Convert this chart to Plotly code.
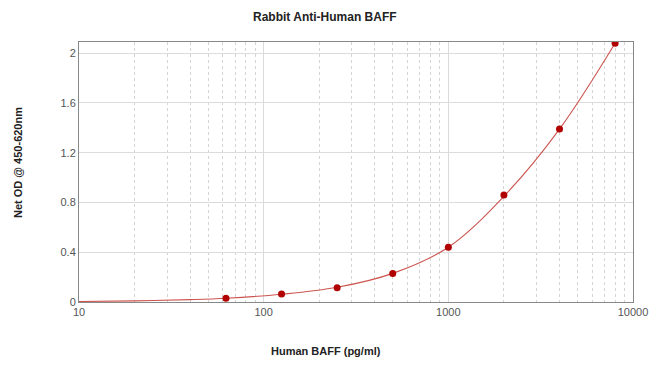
import plotly.graph_objects as go

# Standard points
conc = [62.5, 125, 250, 500, 1000, 2000, 4000, 8000]
od = [0.03, 0.065, 0.115, 0.23, 0.44, 0.86, 1.39, 2.08]

# Fitted curve
curve_x = [10, 20, 40, 62.5, 125, 250, 500, 1000, 2000, 4000, 8000]
curve_y = [0.004, 0.009, 0.019, 0.03, 0.062, 0.118, 0.23, 0.44, 0.85, 1.39, 2.08]

x_ticks = [10, 100, 1000, 10000]
x_tick_labels = ["10", "100", "1000", "10000"]
y_ticks = [0, 0.4, 0.8, 1.2, 1.6, 2]
y_tick_labels = ["0", "0.4", "0.8", "1.2", "1.6", "2"]

FONT = "Arial, Liberation Sans, sans-serif"
L, R, T, B = 79, 17, 42, 70
PW, PH = 650 - L - R, 372 - T - B

fig = go.Figure()
fig.add_trace(go.Scatter(x=curve_x, y=curve_y, mode="lines",
                         line=dict(color="#cc5550", width=1.1, shape="spline"),
                         hoverinfo="skip", showlegend=False))
fig.add_trace(go.Scatter(x=conc, y=od, mode="markers",
                         marker=dict(color="#b00000", size=7),
                         showlegend=False))

fig.update_layout(
    width=650, height=372,
    margin=dict(l=L, r=R, t=T, b=B),
    paper_bgcolor="white", plot_bgcolor="white",
    font=dict(family=FONT, size=11, color="#555"),
    annotations=[
        dict(text="<b>Rabbit Anti-Human BAFF</b>", xref="paper", yref="paper",
             x=(325 - L) / PW, y=1 + (T - 17) / PH, xanchor="center", yanchor="middle",
             showarrow=False, font=dict(size=12, color="#222")),
        dict(text="<b>Human BAFF (pg/ml)</b>", xref="paper", yref="paper",
             x=(326 - L) / PW, y=-(351 - 302) / PH, xanchor="center", yanchor="middle",
             showarrow=False, font=dict(size=11, color="#222")),
        dict(text="<b>Net OD @ 450-620nm</b>", xref="paper", yref="paper",
             x=-(L - 18) / PW, y=(302 - 163) / PH, xanchor="center", yanchor="middle",
             textangle=-90, showarrow=False, font=dict(size=11, color="#222")),
    ],
)

fig.update_xaxes(type="log", range=[1, 4.0], tickvals=x_ticks, ticktext=x_tick_labels,
                 automargin=False,
                 showgrid=True, gridcolor="#dadada", gridwidth=1,
                 minor=dict(showgrid=True, gridcolor="#d4d4d4", griddash="3px,3px", dtick="D1"),
                 showline=True, linecolor="#888", mirror=True, ticks="", zeroline=False,
                 tickfont=dict(size=11, color="#555"))
fig.update_yaxes(range=[0, 2.09], tickvals=y_ticks, ticktext=y_tick_labels,
                 automargin=False,
                 showgrid=True, gridcolor="#dcdcdc", gridwidth=1,
                 showline=True, linecolor="#888", mirror=True, ticks="", zeroline=False,
                 tickfont=dict(size=11, color="#555"))

fig.write_html("out.html", config={"displayModeBar": False},
               post_script="document.body.style.margin='0';")
